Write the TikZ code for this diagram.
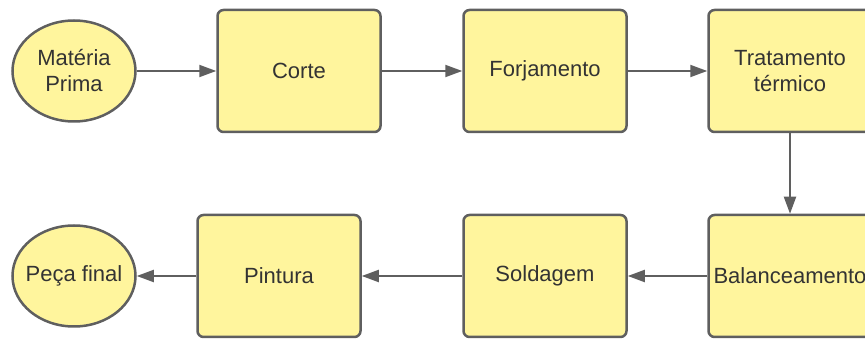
\documentclass[tikz,border=0pt]{standalone}
\usepackage{fontspec}
\setmainfont{Liberation Sans}
\usepackage{tikz}
\usetikzlibrary{arrows.meta}
\usetikzlibrary{shapes.geometric}

\definecolor{boxfill}{HTML}{FFF59D}
\definecolor{boxline}{HTML}{5F5F5F}
\definecolor{boxtext}{HTML}{333333}

\tikzset{
  etapa/.style={draw=boxline, fill=boxfill, line width=2.5pt, rounded corners=6pt,
    minimum width=163pt, minimum height=122pt, inner sep=0pt, align=center,
    text=boxtext, font=\fontsize{22}{26}\selectfont},
  extremo/.style={ellipse, draw=boxline, fill=boxfill, line width=2.5pt,
    minimum width=123pt, minimum height=101pt, inner sep=0pt, align=center,
    text=boxtext, font=\fontsize{22}{26}\selectfont},
  fluxo/.style={draw=boxline, line width=2pt, -{Triangle[length=17pt,width=12pt]}}
}

\begin{document}
\begin{tikzpicture}[x=1pt, y=1pt]
      \useasboundingbox (0, 0) rectangle (865, 340);
      \node[extremo] (materia) at (74, 269) {Matéria\\Prima};
      \node[etapa] (corte) at (299, 269) {Corte};
      \node[etapa] (forjamento) at (545, 269) {Forjamento};
      \node[etapa] (tratamento) at (790, 269) {Tratamento\\térmico};
      \node[etapa] (balanceamento) at (790, 64) {Balanceamento};
      \node[etapa] (soldagem) at (545, 64) {Soldagem};
      \node[etapa] (pintura) at (279, 64) {Pintura};
      \node[extremo] (peca) at (74, 64) {\makebox[70pt]{Peça final}};
      \draw[fluxo] (materia) -- (corte);
      \draw[fluxo] (corte) -- (forjamento);
      \draw[fluxo] (forjamento) -- (tratamento);
      \draw[fluxo] (tratamento) -- (balanceamento);
      \draw[fluxo] (balanceamento) -- (soldagem);
      \draw[fluxo] (soldagem) -- (pintura);
      \draw[fluxo] (pintura) -- (peca);
    \end{tikzpicture}
\end{document}
